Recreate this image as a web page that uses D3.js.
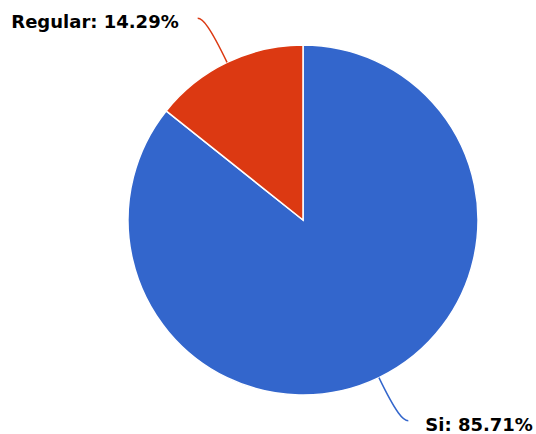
<!DOCTYPE html>
<html>
<head>
<meta charset="utf-8">
<script src="https://cdn.jsdelivr.net/npm/d3@7"></script>
<style>
  body { margin: 0; background: #fff; }
  text { font-family: "DejaVu Sans", sans-serif; font-weight: bold; font-size: 18px; }
</style>
</head>
<body>
<svg id="chart" width="536" height="434"></svg>
<script>
// data
let categories = ["Si", "Regular"];
let values = [85.71, 14.29];
let colors = ["#3366cc", "#dc3912"];

let width = 536, height = 434;
let cx = 303, cy = 220, radius = 175;

let svg = d3.select("#chart");
let g = svg.append("g").attr("transform", "translate(" + cx + "," + cy + ")");

let pie = d3.pie().sort(null).value(function(d, i) { return values[i]; });
let arcs = pie(categories);

let arc = d3.arc().innerRadius(0).outerRadius(radius);

g.selectAll("path.slice")
  .data(arcs)
  .enter().append("path")
    .attr("class", "slice")
    .attr("d", arc)
    .attr("fill", function(d, i) { return colors[i]; })
    .attr("stroke", "#fff")
    .attr("stroke-width", 1.5);

// leader lines + labels
arcs.forEach(function(d, i) {
  let a = (d.startAngle + d.endAngle) / 2;
  let sx = Math.sin(a), sy = -Math.cos(a);
  let p0 = [radius * sx, radius * sy];
  let p1 = [(radius + 40) * sx, (radius + 40) * sy];
  let dir = sx < 0 ? -1 : 1;
  let p2 = [p1[0] + dir * 12, p1[1] + (sy < 0 ? -8 : 7)];

  g.append("path")
    .attr("d", "M" + p0 + "C" + p1 + " " + [p2[0] - dir * 5, p2[1]] + " " + p2)
    .attr("fill", "none")
    .attr("stroke", colors[i])
    .attr("stroke-width", 1.5);

  g.append("text")
    .attr("x", p2[0] + dir * (dir < 0 ? 19 : 17))
    .attr("y", p2[1] + 10)
    .attr("text-anchor", dir < 0 ? "end" : "start")
    .attr("fill", "#000")
    .text(categories[i] + ": " + d3.format(".2f")(values[i]) + "%");
});
</script>
</body>
</html>
